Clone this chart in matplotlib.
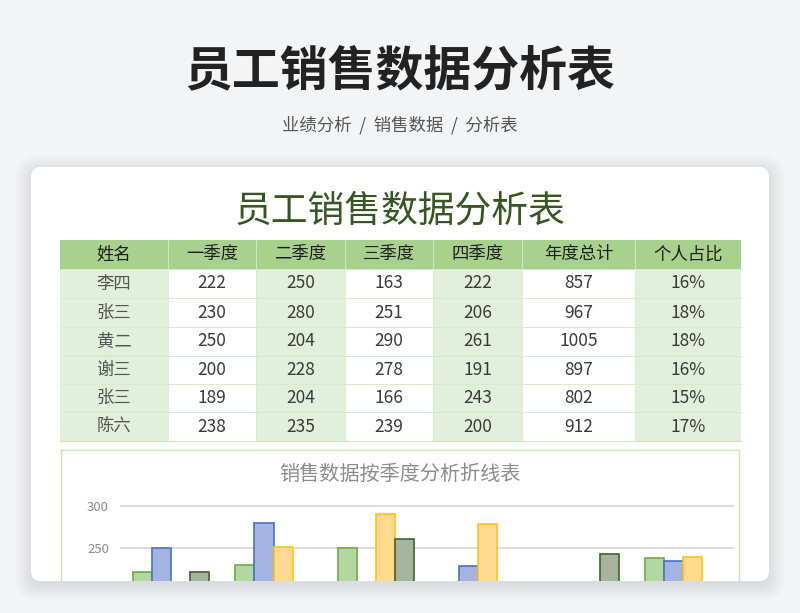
import matplotlib
matplotlib.use('Agg')
import matplotlib.pyplot as plt
from matplotlib.patches import FancyBboxPatch, Rectangle
import numpy as np

plt.rcParams['font.family'] = ['Noto Sans CJK SC', 'DejaVu Sans']

# data
names = ['李四', '张三', '黄二', '谢三', '张三', '陈六']
quarters = ['一季度', '二季度', '三季度', '四季度']
q1 = [222, 230, 250, 200, 189, 238]
q2 = [250, 280, 204, 228, 204, 235]
q3 = [163, 251, 290, 278, 166, 239]
q4 = [222, 206, 261, 191, 243, 200]
totals = [857, 967, 1005, 897, 802, 912]
shares = ['16%', '18%', '18%', '16%', '15%', '17%']
headers = ['姓名', '一季度', '二季度', '三季度', '四季度', '年度总计', '个人占比']
yticks = [250, 300]

W, H = 800, 613
fig = plt.figure(figsize=(W / 100, H / 100), dpi=100)
fig.patch.set_facecolor('#f3f4f6')

bg = fig.add_axes([0, 0, 1, 1])
bg.set_xlim(0, W)
bg.set_ylim(H, 0)
bg.axis('off')

# page header
bg.text(400, 71, '员工销售数据分析表', ha='center', va='center', fontsize=34.5,
        fontweight='heavy', color='#222222')
bg.text(400, 125, '业绩分析  /  销售数据  /  分析表', ha='center', va='center',
        fontsize=12.5, color='#555555')

# card with soft shadow
cx0, cy0, cx1, cy1 = 31, 167, 769, 581
for i in range(12):
    p = i * 1.5
    bg.add_patch(FancyBboxPatch((cx0 - p, cy0 - p + 4), cx1 - cx0 + 2 * p, cy1 - cy0 + 2 * p,
                                boxstyle='round,pad=0,rounding_size=%g' % (10 + p),
                                fc='black', ec='none', alpha=0.009))
bg.add_patch(FancyBboxPatch((cx0, cy0), cx1 - cx0, cy1 - cy0,
                            boxstyle='round,pad=0,rounding_size=10',
                            fc='white', ec='none'))

bg.text(400, 211, '员工销售数据分析表', ha='center', va='center', fontsize=26.5,
        color='#375623')

# table
col_x = [60, 168, 256, 345, 433, 522, 635, 741]
row_y = [240, 269, 298, 327, 356, 384, 412, 441]
light = '#e2efda'
head_c = '#a9d18e'
for c in range(7):
    x0, x1 = col_x[c], col_x[c + 1]
    bg.add_patch(Rectangle((x0, row_y[0]), x1 - x0, row_y[1] - row_y[0], fc=head_c, ec='none'))
    body_c = light if c % 2 == 0 else 'white'
    bg.add_patch(Rectangle((x0, row_y[1]), x1 - x0, row_y[-1] - row_y[1], fc=body_c, ec='none'))
    bg.text((x0 + x1) / 2, (row_y[0] + row_y[1]) / 2, headers[c], ha='center', va='center',
            fontsize=12.5, color='#1e1e1e')

for y in row_y[1:-1]:
    bg.plot([col_x[0], col_x[-1]], [y, y], color='#d8eacc', lw=0.7)
bg.plot([col_x[0], col_x[-1]], [row_y[-1], row_y[-1]], color='#cfe3c2', lw=0.8)
for x in col_x[1:-1]:
    bg.plot([x, x], [row_y[0], row_y[-1]], color='#d9ebcd', lw=0.6)

for r in range(6):
    yc = (row_y[r + 1] + row_y[r + 2]) / 2
    vals = [names[r], q1[r], q2[r], q3[r], q4[r], totals[r], shares[r]]
    for c, v in enumerate(vals):
        bg.text((col_x[c] + col_x[c + 1]) / 2, yc, str(v), ha='center', va='center',
                fontsize=12.5, color='#555555' if c == 0 else '#3a3a3a')

# chart frame (cut off by the card bottom)
frame_c = '#c9e2b8'
bg.plot([61, 61, 739, 739], [cy1, 450, 450, cy1], color=frame_c, lw=1.0)
bg.text(400, 474, '销售数据按季度分析折线表', ha='center', va='center', fontsize=14.5,
        color='#8c8c8c')

# bar chart
px_l, px_r, px_b, px_t = 120, 734, 581, 495
ax = fig.add_axes([px_l / W, 1 - px_b / H, (px_r - px_l) / W, (px_b - px_t) / H])
ax.patch.set_alpha(0)
y_lo = 250 - (px_b - 548) * 50 / 42
y_hi = 300 + (506 - px_t) * 50 / 42
ax.set_ylim(y_lo, y_hi)
ax.set_xlim(-0.5, 5.5)

fills = ['#b4d6a0', '#a3b4e2', '#ffd98e', '#a6b39f']
edges = ['#6fab46', '#4a73c2', '#ffc21a', '#42642c']
series = [q1, q2, q3, q4]
w = 0.186
xs = np.arange(len(names))
for i, vals in enumerate(series):
    ax.bar(xs + (i - 1.5) * w, vals, width=w, color=fills[i], edgecolor=edges[i],
           linewidth=1.2, zorder=3, label=quarters[i])

ax.set_yticks(yticks)
ax.yaxis.grid(True, color='#d9d9d9', lw=1.3, zorder=0)
ax.set_xticks([])
ax.tick_params(axis='y', length=0, pad=8, labelsize=9.5, labelcolor='#8c8c8c')
for s in ax.spines.values():
    s.set_visible(False)

fig.savefig('out.png', dpi=100, facecolor=fig.get_facecolor())
